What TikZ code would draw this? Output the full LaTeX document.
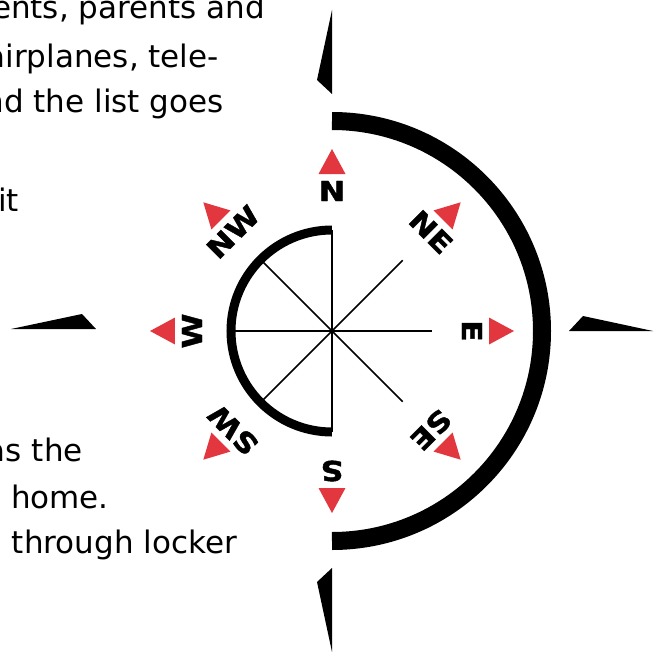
\documentclass[tikz,border=0pt]{standalone}
\usepackage{fontspec}
\setmainfont{DejaVu Sans}
\newfontfamily\labfont[FakeStretch=1.15,FakeBold=1.5]{DejaVu Sans Bold}
\definecolor{cred}{RGB}{226,55,62}
\begin{document}
\begin{tikzpicture}[x=1pt,y=1pt,
  para/.style={anchor=base east,inner sep=0pt,font=\fontsize{31}{37}\selectfont},
  dirlabel/.style={inner sep=0pt,font=\labfont\fontsize{27.5}{32}\selectfont},
  redtri/.style={fill=cred},
  pointer/.style={fill=black},
  spoke/.style={line width=1.6pt},
  ring/.style={line width=#1,line cap=butt}]
\path[use as bounding box] (-332,-320) rectangle (331,331);
\clip (-332,-320) rectangle (331,331);
\coordinate (c) at (0,0);
% paragraph text (cut by the left edge)
\node[para] (t1) at (-67,312) {ents, parents and};
\node[para] (t2) at (-113,263) {airplanes, tele-};
\node[para] (t3) at (-108,218) {nd the list goes};
\node[para] (t4) at (-313,120) {sit};
\node[para] (t5) at (-249,-130) {as the};
\node[para] (t6) at (-223,-177) {home.};
\node[para] (t7) at (-95,-222) {through locker};
% rings
\draw[ring=18pt] (0,210) arc[start angle=90,end angle=-90,radius=210];
\draw[ring=9pt] (0,101) arc[start angle=90,end angle=270,radius=101];
% spokes
\foreach \a in {0,45,135,180,225,315} \draw[spoke] (c) -- (\a:100);
\draw[spoke] (0,101) -- (0,-101);
% black pointers
\fill[pointer] (0,237) -- (-15,251) -- (0,321) -- cycle;
\fill[pointer] (0,-237) -- (-15,-251) -- (0,-321) -- cycle;
\fill[pointer] (237,0) -- (251,15) -- (321,0) -- cycle;
\fill[pointer] (-236,2) -- (-250,17) -- (-321,2) -- cycle;
% red triangles
\foreach \a in {0,45,...,315}
  \fill[redtri,rotate=\a] (157,-13.5) -- (182,0) -- (157,13.5) -- cycle;
% direction labels
\foreach \a/\t in {90/N,45/NE,0/E,-45/SE,-90/S,-135/SW,180/W,135/NW}
  \node[dirlabel,rotate=\a-90] (l\t) at (\a:140) {\t};
\end{tikzpicture}
\end{document}
